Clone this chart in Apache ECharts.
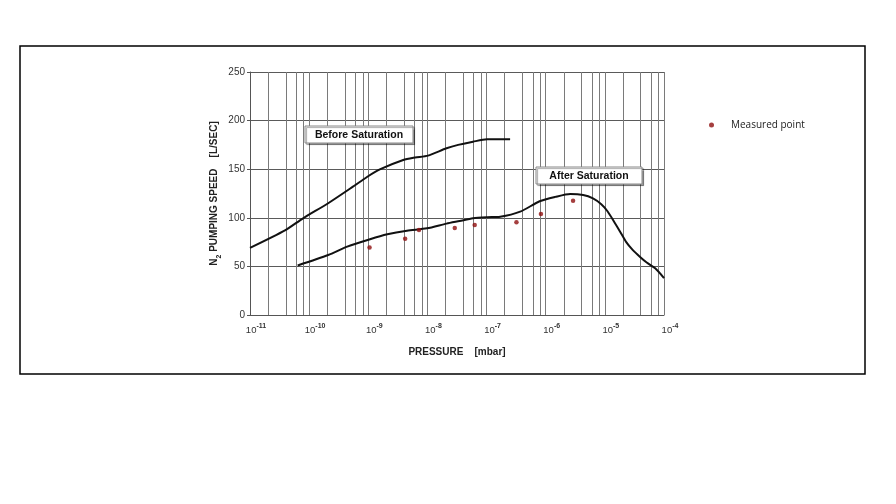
<!DOCTYPE html>
<html><head><meta charset="utf-8">
<script src="https://cdn.jsdelivr.net/npm/echarts@6/dist/echarts.min.js"></script>
<style>html,body{margin:0;padding:0;background:#fff}#c{width:896px;height:504px}</style>
</head><body><div id="c"></div>
<script>
// Before saturation curve
var beforePressure = [1e-11, 3.9e-11, 7.9e-11, 2.1e-10, 5.5e-10, 9.5e-10, 1.6e-9, 3.9e-9, 6.2e-9, 1.02e-8, 2.1e-8, 3.3e-8, 5.9e-8, 1.02e-7, 2.5e-7];
var beforeSpeed    = [69, 87, 99.5, 115, 132, 142, 150, 159.5, 162, 164, 171.5, 175, 178.3, 180.7, 180.7];
// After saturation curve
var afterPressure = [6.4e-11, 2.1e-10, 4.4e-10, 1.07e-9, 2.1e-9, 4.5e-9, 9.8e-9, 2.1e-8, 3.5e-8, 5.9e-8, 1.02e-7, 1.7e-7, 3.7e-7, 7.9e-7, 1.45e-6, 2.6e-6, 4.3e-6, 6.3e-6, 8.7e-6, 1.1e-5, 1.4e-5, 1.8e-5, 2.3e-5, 2.95e-5, 3.9e-5, 5.1e-5, 7.1e-5, 1e-4];
var afterSpeed    = [51, 61.7, 70.3, 78, 83, 86.7, 89.2, 94, 96.7, 99.5, 100.6, 101.1, 106.3, 117, 121.5, 124.5, 123.5, 120, 114, 107, 97, 86, 75, 67, 60, 54, 48, 38];
// Measured points
var measuredPressure = [1.05e-9, 4.2e-9, 7.2e-9, 2.9e-8, 6.3e-8, 3.2e-7, 8.3e-7, 2.9e-6];
var measuredSpeed    = [69.5, 78.5, 87.5, 89.5, 92.5, 95.5, 104, 117.5];
// Axis settings
var decadeExponents = [-11, -10, -9, -8, -7, -6, -5, -4];
var minorMultipliers = [2, 4, 6, 8];

function pairs(xs, ys){ return xs.map(function(x,i){ return [x, ys[i]]; }); }

var minorValues = [];
for (var d = 0; d < decadeExponents.length - 1; d++) {
  minorMultipliers.forEach(function(m){ minorValues.push([m * Math.pow(10, decadeExponents[d])]); });
}

var chart = echarts.init(document.getElementById('c'));
var font = '"Liberation Sans", Arial, sans-serif';
var gridColor = '#7a7a7a';
chart.setOption({
  animation: false,
  backgroundColor: '#fff',
  grid: { left: 250, right: 232, top: 72, bottom: 189 },
  legend: {
    left: 704, top: 115,
    data: ['Measured point'],
    icon: 'circle', itemWidth: 5, itemHeight: 5,
    textStyle: { fontFamily: '"Open Sans", "Liberation Sans", sans-serif', fontSize: 10, color: '#222', padding: [0, 0, 0, 12] }
  },
  xAxis: {
    type: 'log', logBase: 10, min: 1e-11, max: 1e-4, splitNumber: 7,
    name: 'PRESSURE    [mbar]', nameLocation: 'middle', nameGap: 32,
    nameTextStyle: { fontFamily: font, fontWeight: 'bold', fontSize: 10, color: '#222' },
    axisLine: { show: true, lineStyle: { color: '#555', width: 1 } },
    axisTick: { show: false },
    axisLabel: {
      margin: 8, padding: [0, 0, 0, 12],
      formatter: function(v){ return '{b|10}{s|' + Math.round(Math.log10(v)) + '}'; },
      rich: {
        b: { fontFamily: font, fontSize: 9.5, color: '#333', lineHeight: 12, verticalAlign: 'bottom' },
        s: { fontFamily: font, fontSize: 7, fontWeight: 'bold', color: '#333', lineHeight: 12, verticalAlign: 'top' }
      }
    },
    splitLine: { show: true, lineStyle: { color: gridColor, width: 1 } }
  },
  yAxis: {
    type: 'value', min: 0, max: 250, interval: 50,
    name: '{n|N}{sub|2}{n| PUMPING SPEED    [L/SEC]}', nameLocation: 'middle', nameGap: 27,
    nameTextStyle: {
      rich: {
        n: { fontFamily: font, fontWeight: 'bold', fontSize: 10, color: '#222', lineHeight: 14, verticalAlign: 'top' },
        sub: { fontFamily: font, fontWeight: 'bold', fontSize: 7, color: '#222', lineHeight: 14, verticalAlign: 'bottom' }
      }
    },
    axisLine: { show: true, lineStyle: { color: '#555', width: 1 } },
    axisTick: { show: true, length: 3, lineStyle: { color: '#555' } },
    axisLabel: { margin: 5, fontFamily: font, fontSize: 10, color: '#333' },
    splitLine: { show: true, lineStyle: { color: '#5a5a5a', width: 1 } }
  },
  series: [
    {
      name: 'minor grid', type: 'custom', data: minorValues, silent: true, z: 1,
      encode: { x: 0 },
      renderItem: function(params, api){
        var top = api.coord([api.value(0), 250]);
        var bot = api.coord([api.value(0), 0]);
        var x = Math.round(top[0]) + 0.5;
        return { type: 'line', shape: { x1: x, y1: top[1], x2: x, y2: bot[1] }, style: { stroke: gridColor, lineWidth: 1 } };
      }
    },
    {
      name: 'Before Saturation', type: 'line', data: pairs(beforePressure, beforeSpeed),
      showSymbol: false, smooth: 0.25, z: 3,
      lineStyle: { color: '#111', width: 2 }
    },
    {
      name: 'After Saturation', type: 'line', data: pairs(afterPressure, afterSpeed),
      showSymbol: false, smooth: 0.25, z: 3,
      lineStyle: { color: '#111', width: 2 }
    },
    {
      name: 'Measured point', type: 'scatter', data: pairs(measuredPressure, measuredSpeed),
      symbolSize: 4.5, z: 4,
      itemStyle: { color: '#8e0f0f' }
    }
  ],
  graphic: [
    { type: 'rect', z: 100, shape: { x: 20, y: 46, width: 845, height: 328 }, style: { fill: 'none', stroke: '#000', lineWidth: 1.5 }, silent: true },
    { type: 'group', z: 100, x: 305, y: 126, children: [
      { type: 'rect', z: 100, shape: { x: 0, y: 0, width: 108, height: 17 }, style: { fill: '#fff', stroke: '#888', lineWidth: 1, shadowColor: 'rgba(0,0,0,0.35)', shadowOffsetX: 1.5, shadowOffsetY: 1.5, shadowBlur: 1 } },
      { type: 'text', z: 101, x: 54, y: 9, style: { text: 'Before Saturation', fontFamily: font, fontWeight: 'bold', fontSize: 10.5, fill: '#111', align: 'center', verticalAlign: 'middle' } }
    ]},
    { type: 'group', z: 100, x: 536, y: 167, children: [
      { type: 'rect', z: 100, shape: { x: 0, y: 0, width: 106, height: 17 }, style: { fill: '#fff', stroke: '#888', lineWidth: 1, shadowColor: 'rgba(0,0,0,0.35)', shadowOffsetX: 1.5, shadowOffsetY: 1.5, shadowBlur: 1 } },
      { type: 'text', z: 101, x: 53, y: 9, style: { text: 'After Saturation', fontFamily: font, fontWeight: 'bold', fontSize: 10.5, fill: '#111', align: 'center', verticalAlign: 'middle' } }
    ]}
  ]
});
</script>
</body></html>
